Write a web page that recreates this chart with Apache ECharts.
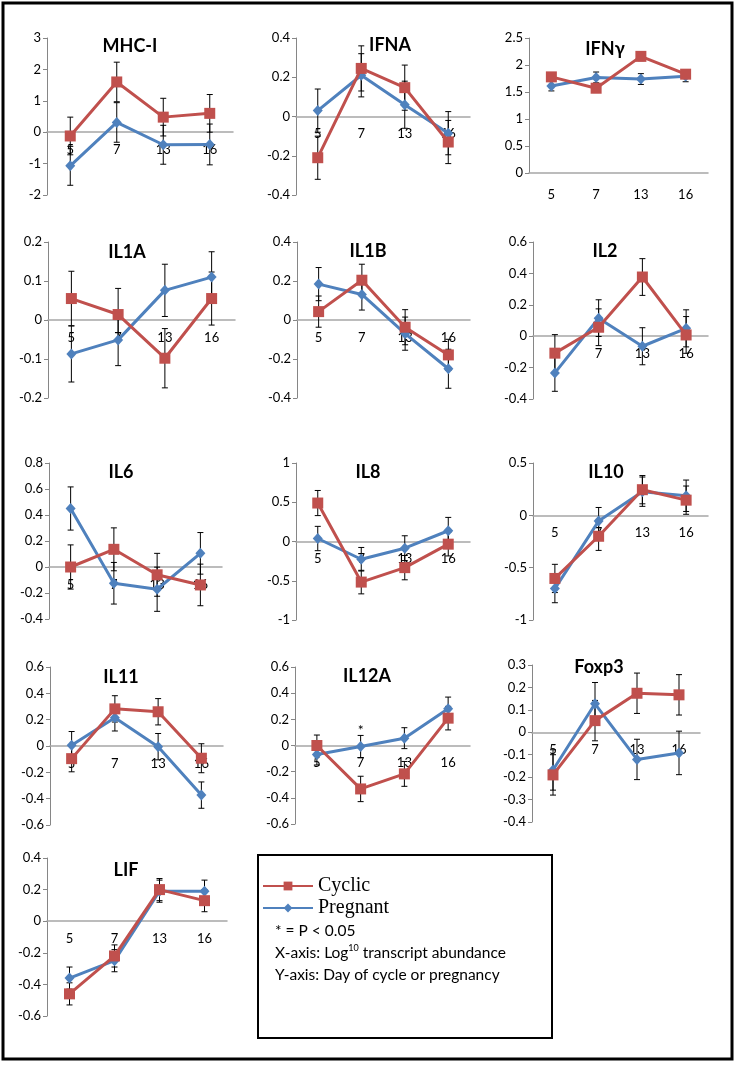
<!DOCTYPE html>
<html><head><meta charset="utf-8">
<script src="https://cdn.jsdelivr.net/npm/echarts@6/dist/echarts.min.js"></script>
<style>html,body{margin:0;padding:0;background:#fff;}#c{width:739px;height:1065px;}</style>
</head><body><div id="c"></div>
<script>
// ---- data ----
const days = ['5', '7', '13', '16'];
const genes = ['MHC-I', 'IFNA', 'IFNγ', 'IL1A', 'IL1B', 'IL2', 'IL6', 'IL8', 'IL10', 'IL11', 'IL12A', 'Foxp3', 'LIF'];

const cyc_MHCI = [-0.12, 1.6, 0.48, 0.6];
const cycErr_MHCI = [0.6, 0.63, 0.6, 0.6];
const preg_MHCI = [-1.07, 0.31, -0.4, -0.39];
const pregErr_MHCI = [0.62, 0.63, 0.62, 0.65];

const cyc_IFNA = [-0.21, 0.245, 0.147, -0.13];
const cycErr_IFNA = [0.11, 0.115, 0.115, 0.11];
const preg_IFNA = [0.03, 0.21, 0.06, -0.085];
const pregErr_IFNA = [0.11, 0.11, 0.12, 0.11];

const cyc_IFNG = [1.78, 1.57, 2.16, 1.83];
const cycErr_IFNG = [0.08, 0.08, 0.08, 0.08];
const preg_IFNG = [1.61, 1.77, 1.74, 1.79];
const pregErr_IFNG = [0.09, 0.1, 0.1, 0.1];

const cyc_IL1A = [0.055, 0.014, -0.098, 0.055];
const cycErr_IL1A = [0.07, 0.067, 0.076, 0.068];
const preg_IL1A = [-0.087, -0.051, 0.076, 0.11];
const pregErr_IL1A = [0.072, 0.066, 0.067, 0.065];

const cyc_IL1B = [0.043, 0.204, -0.037, -0.179];
const cycErr_IL1B = [0.08, 0.082, 0.09, 0.08];
const preg_IL1B = [0.184, 0.131, -0.07, -0.25];
const pregErr_IL1B = [0.085, 0.08, 0.085, 0.1];

const cyc_IL2 = [-0.108, 0.057, 0.377, 0.008];
const cycErr_IL2 = [0.118, 0.117, 0.117, 0.117];
const preg_IL2 = [-0.234, 0.115, -0.064, 0.05];
const pregErr_IL2 = [0.117, 0.117, 0.118, 0.118];

const cyc_IL6 = [0.0, 0.136, -0.06, -0.138];
const cycErr_IL6 = [0.17, 0.165, 0.165, 0.16];
const preg_IL6 = [0.45, -0.125, -0.171, 0.105];
const pregErr_IL6 = [0.166, 0.16, 0.17, 0.16];

const cyc_IL8 = [0.49, -0.517, -0.333, -0.034];
const cycErr_IL8 = [0.16, 0.15, 0.155, 0.15];
const preg_IL8 = [0.038, -0.226, -0.085, 0.137];
const pregErr_IL8 = [0.155, 0.15, 0.158, 0.17];

const cyc_IL10 = [-0.603, -0.2, 0.245, 0.145];
const cycErr_IL10 = [0.135, 0.135, 0.135, 0.135];
const preg_IL10 = [-0.7, -0.055, 0.226, 0.187];
const pregErr_IL10 = [0.135, 0.13, 0.14, 0.15];

const cyc_IL11 = [-0.096, 0.282, 0.26, -0.093];
const cycErr_IL11 = [0.1, 0.1, 0.1, 0.11];
const preg_IL11 = [0.005, 0.214, -0.005, -0.373];
const pregErr_IL11 = [0.105, 0.1, 0.1, 0.1];

const cyc_IL12A = [0.0, -0.332, -0.217, 0.209];
const cycErr_IL12A = [0.08, 0.097, 0.095, 0.09];
const preg_IL12A = [-0.069, -0.008, 0.056, 0.28];
const pregErr_IL12A = [0.08, 0.085, 0.08, 0.09];

const cyc_FOXP3 = [-0.19, 0.052, 0.174, 0.167];
const cycErr_FOXP3 = [0.09, 0.09, 0.09, 0.09];
const preg_FOXP3 = [-0.168, 0.127, -0.121, -0.092];
const pregErr_FOXP3 = [0.09, 0.095, 0.09, 0.097];

const cyc_LIF = [-0.46, -0.22, 0.2, 0.13];
const cycErr_LIF = [0.07, 0.07, 0.07, 0.07];
const preg_LIF = [-0.36, -0.25, 0.19, 0.19];
const pregErr_LIF = [0.07, 0.07, 0.07, 0.07];

// y-axis tick settings: [min, max, interval]
const yTicks = [
  [-2, 3, 1], [-0.4, 0.4, 0.2], [0, 2.5, 0.5],
  [-0.2, 0.2, 0.1], [-0.4, 0.4, 0.2], [-0.4, 0.6, 0.2],
  [-0.4, 0.8, 0.2], [-1, 1, 0.5], [-1, 0.5, 0.5],
  [-0.6, 0.6, 0.2], [-0.6, 0.6, 0.2], [-0.4, 0.3, 0.1],
  [-0.6, 0.4, 0.2]
];

const cycAll = [cyc_MHCI, cyc_IFNA, cyc_IFNG, cyc_IL1A, cyc_IL1B, cyc_IL2, cyc_IL6, cyc_IL8, cyc_IL10, cyc_IL11, cyc_IL12A, cyc_FOXP3, cyc_LIF];
const cycErrAll = [cycErr_MHCI, cycErr_IFNA, cycErr_IFNG, cycErr_IL1A, cycErr_IL1B, cycErr_IL2, cycErr_IL6, cycErr_IL8, cycErr_IL10, cycErr_IL11, cycErr_IL12A, cycErr_FOXP3, cycErr_LIF];
const pregAll = [preg_MHCI, preg_IFNA, preg_IFNG, preg_IL1A, preg_IL1B, preg_IL2, preg_IL6, preg_IL8, preg_IL10, preg_IL11, preg_IL12A, preg_FOXP3, preg_LIF];
const pregErrAll = [pregErr_MHCI, pregErr_IFNA, pregErr_IFNG, pregErr_IL1A, pregErr_IL1B, pregErr_IL2, pregErr_IL6, pregErr_IL8, pregErr_IL10, pregErr_IL11, pregErr_IL12A, pregErr_FOXP3, pregErr_LIF];

// ---- layout (plot areas, title centres) ----
const gridBoxes = [
  [47, 38, 186, 157], [296, 38, 174, 157], [529, 38, 179, 135],
  [48, 242, 187, 156], [297, 242, 173, 156], [533, 242, 175, 157],
  [49, 463, 173, 156], [296, 463, 174, 157], [533, 463, 175, 157],
  [50, 667, 173, 158], [295, 667, 175, 157], [532, 665, 168, 157],
  [47, 858, 180, 158]
];
const titlePos = [
  [130, 46], [390, 45], [605, 49],
  [127, 252], [368, 251], [605, 251],
  [121, 472], [368, 472], [606, 472],
  [121, 677], [367, 676], [599, 667],
  [126, 870]
];

const RED = '#C0504D', BLUE = '#4F81BD';
const FONT = 'Lato, "Noto Sans", sans-serif';

function errRender(params, api) {
  const x = api.value(0);
  const lo = api.coord([x, api.value(1)]);
  const hi = api.coord([x, api.value(2)]);
  const w = 3;
  const st = { stroke: '#000', lineWidth: 1 };
  return {
    type: 'group',
    children: [
      { type: 'line', shape: { x1: lo[0], y1: lo[1], x2: hi[0], y2: hi[1] }, style: st },
      { type: 'line', shape: { x1: lo[0] - w, y1: lo[1], x2: lo[0] + w, y2: lo[1] }, style: st },
      { type: 'line', shape: { x1: hi[0] - w, y1: hi[1], x2: hi[0] + w, y2: hi[1] }, style: st }
    ]
  };
}

const grid = [], xAxis = [], yAxis = [], series = [], graphic = [];
genes.forEach((g, k) => {
  const b = gridBoxes[k];
  const t = yTicks[k];
  grid.push({ left: b[0], top: b[1], width: b[2], height: b[3] });
  // category axis crosses the value axis at 0 (Excel style): shift it up from the bottom edge
  const zeroFrac = (0 - t[0]) / (t[1] - t[0]);
  xAxis.push({
    type: 'category', gridIndex: k, data: days, boundaryGap: true, position: 'bottom',
    offset: -b[3] * zeroFrac,
    axisLine: { onZero: false, lineStyle: { color: '#A6A6A6', width: 1.5 } },
    axisTick: { show: false },
    axisLabel: { color: '#000', fontFamily: FONT, fontSize: 13, margin: zeroFrac > 0 ? 11 : 15 },
    splitLine: { show: false }
  });
  yAxis.push({
    type: 'value', gridIndex: k, min: t[0], max: t[1], interval: t[2],
    axisLine: { show: true, lineStyle: { color: '#868686' } },
    axisTick: { show: true, length: 4, lineStyle: { color: '#868686' } },
    axisLabel: { color: '#000', fontFamily: FONT, fontSize: 13, margin: 6 },
    splitLine: { show: false }
  });
  const mk = (vals, errs) => vals.map((v, i) => [i, v - errs[i], v + errs[i]]);
  series.push({
    type: 'custom', name: 'pregErr', xAxisIndex: k, yAxisIndex: k, z: 2,
    renderItem: errRender, data: mk(pregAll[k], pregErrAll[k]), silent: true
  });
  series.push({
    type: 'custom', name: 'cycErr', xAxisIndex: k, yAxisIndex: k, z: 2,
    renderItem: errRender, data: mk(cycAll[k], cycErrAll[k]), silent: true
  });
  const preg = {
    type: 'line', name: 'Pregnant', xAxisIndex: k, yAxisIndex: k, z: 3,
    data: pregAll[k], symbol: 'diamond', symbolSize: [10, 11], showSymbol: true,
    lineStyle: { color: BLUE, width: 3 }, itemStyle: { color: BLUE }, emphasis: { disabled: true }
  };
  if (g === 'IL12A') {
    preg.markPoint = {
      symbol: 'circle', symbolSize: 0,
      data: [{ coord: [1, 0.115], label: { show: true, formatter: '*', color: '#000', fontSize: 14, fontFamily: FONT, position: 'inside' } }]
    };
  }
  series.push(preg);
  series.push({
    type: 'line', name: 'Cyclic', xAxisIndex: k, yAxisIndex: k, z: 4,
    data: cycAll[k], symbol: 'rect', symbolSize: 11, showSymbol: true,
    lineStyle: { color: RED, width: 3 }, itemStyle: { color: RED }, emphasis: { disabled: true }
  });
  graphic.push({
    type: 'text', x: titlePos[k][0], y: titlePos[k][1],
    style: { text: g, font: 'bold 18px ' + FONT, fill: '#000', align: 'center', verticalAlign: 'middle' }
  });
});

// frames and legend notes
graphic.push({ type: 'rect', shape: { x: 3, y: 3, width: 729, height: 1056 }, style: { fill: 'none', stroke: '#000', lineWidth: 3 }, z: 0 });
graphic.push({ type: 'rect', shape: { x: 258, y: 855, width: 294, height: 183 }, style: { fill: 'none', stroke: '#000', lineWidth: 2 }, z: 0 });
graphic.push({ type: 'text', x: 275, y: 931, style: { text: '* = P < 0.05', font: '15.5px ' + FONT, fill: '#000', verticalAlign: 'middle' } });
graphic.push({
  type: 'text', x: 275, y: 953,
  style: {
    text: '{a|X-axis: Log}{s|10}{a| transcript abundance}',
    verticalAlign: 'middle',
    rich: {
      a: { font: '15.5px ' + FONT, fill: '#000', lineHeight: 18 },
      s: { font: '9px ' + FONT, fill: '#000', verticalAlign: 'top', lineHeight: 18, padding: [0, 0, 8, 0] }
    }
  }
});
graphic.push({ type: 'text', x: 275, y: 975, style: { text: 'Y-axis: Day of cycle or pregnancy', font: '15.5px ' + FONT, fill: '#000', verticalAlign: 'middle' } });

const chart = echarts.init(document.getElementById('c'));
chart.setOption({
  animation: false,
  backgroundColor: '#fff',
  grid, xAxis, yAxis, series, graphic,
  legend: {
    data: ['Cyclic', 'Pregnant'], orient: 'vertical', left: 257, top: 871,
    itemWidth: 50, itemHeight: 11, itemGap: 2, selectedMode: false,
    textStyle: { fontFamily: '"Liberation Serif", serif', fontSize: 20, color: '#000' }
  }
});
</script></body></html>
